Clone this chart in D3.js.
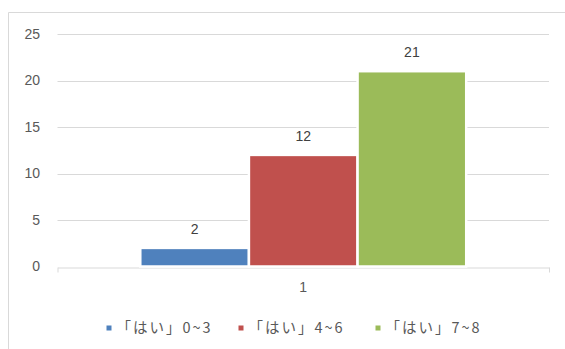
<!DOCTYPE html>
<html><head><meta charset="utf-8">
<script src="https://cdn.jsdelivr.net/npm/d3@7"></script>
<style>
html,body{margin:0;padding:0;background:#fff;}
svg{display:block;}
</style></head>
<body>
<svg id="chart" width="565" height="349"></svg>
<script>
const categories = ["1"];
const seriesNames = ["「はい」0~3", "「はい」4~6", "「はい」7~8"];
const seriesValues = [[2], [12], [21]];
const seriesColors = ["#4F81BD", "#C0504D", "#9BBB59"];
const yTicks = [0, 5, 10, 15, 20, 25];

(function () {
const svg = d3.select("#chart");
const W = 565, H = 349;
const plotL = 57.5, plotR = 549, plotT = 34, plotB = 266.5;
const numFont = "'Liberation Sans', Arial, sans-serif";
const textColor = "#595959";

svg.append("path").attr("d", `M8.5,${H} L8.5,12.5 L${W},12.5`)
  .attr("fill", "none").attr("stroke", "#D9D9D9").attr("stroke-width", 1);

const y = d3.scaleLinear().domain([0, 25]).range([plotB, plotT]);
const x0 = d3.scaleBand().domain(categories).range([plotL, plotR]).paddingInner(0).paddingOuter(0.254);
const x1 = d3.scaleBand().domain(seriesNames).range([0, x0.bandwidth()]).padding(0);

svg.append("g").selectAll("line").data(yTicks.filter(t => t > 0)).join("line")
  .attr("x1", plotL).attr("x2", plotR)
  .attr("y1", d => Math.round(y(d)) + 0.5).attr("y2", d => Math.round(y(d)) + 0.5)
  .attr("stroke", "#D9D9D9").attr("stroke-width", 1);

svg.append("g").selectAll("text").data(yTicks).join("text")
  .attr("x", 40).attr("y", d => y(d)).attr("dy", "0.35em")
  .attr("text-anchor", "end").attr("font-family", numFont).attr("font-size", 14)
  .attr("fill", textColor).text(d => d);

const xAxis = d3.axisBottom(d3.scaleLinear().domain([0, 1]).range([plotL, plotR]))
  .tickValues([0, 1]).tickFormat("").tickSize(5).tickSizeOuter(0);
const gx = svg.append("g").attr("transform", `translate(0,${Math.round(plotB) + 0.5})`).call(xAxis);
gx.selectAll("path,line").attr("stroke", "#D9D9D9");

svg.append("g").selectAll("text").data(categories).join("text")
  .attr("x", d => x0(d) + x0.bandwidth() / 2).attr("y", 292)
  .attr("text-anchor", "middle").attr("font-family", numFont).attr("font-size", 14)
  .attr("fill", textColor).text(d => d);

const rows = [];
categories.forEach((c, ci) => seriesNames.forEach((s, si) => rows.push({c, s, si, v: seriesValues[si][ci]})));
svg.append("g").selectAll("rect").data(rows).join("rect")
  .attr("x", d => x0(d.c) + x1(d.s)).attr("width", x1.bandwidth())
  .attr("y", d => y(d.v)).attr("height", d => y(0) - y(d.v))
  .attr("fill", d => seriesColors[d.si]).attr("stroke", "#fff").attr("stroke-width", 2.5);

svg.append("g").selectAll("text").data(rows).join("text")
  .attr("x", d => x0(d.c) + x1(d.s) + x1.bandwidth() / 2).attr("y", d => y(d.v) - 14)
  .attr("text-anchor", "middle").attr("font-family", numFont).attr("font-size", 14)
  .attr("fill", "#404040").text(d => d.v);

const legendX = [106.5, 238.5, 375.5];
const lg = svg.append("g").selectAll("g").data(seriesNames).join("g")
  .attr("transform", (d, i) => `translate(${legendX[i]},328)`);
lg.append("rect").attr("x", 0).attr("y", -2.5).attr("width", 5).attr("height", 5)
  .attr("fill", (d, i) => seriesColors[i]);
lg.append("text").attr("x", 10).attr("y", 0).attr("dy", "0.36em")
  .attr("font-family", "'Noto Sans CJK JP', sans-serif").attr("font-size", 14.5)
  .attr("fill", textColor).attr("textLength", 94).attr("lengthAdjust", "spacing")
  .text(d => d);
})();
</script>
</body></html>
